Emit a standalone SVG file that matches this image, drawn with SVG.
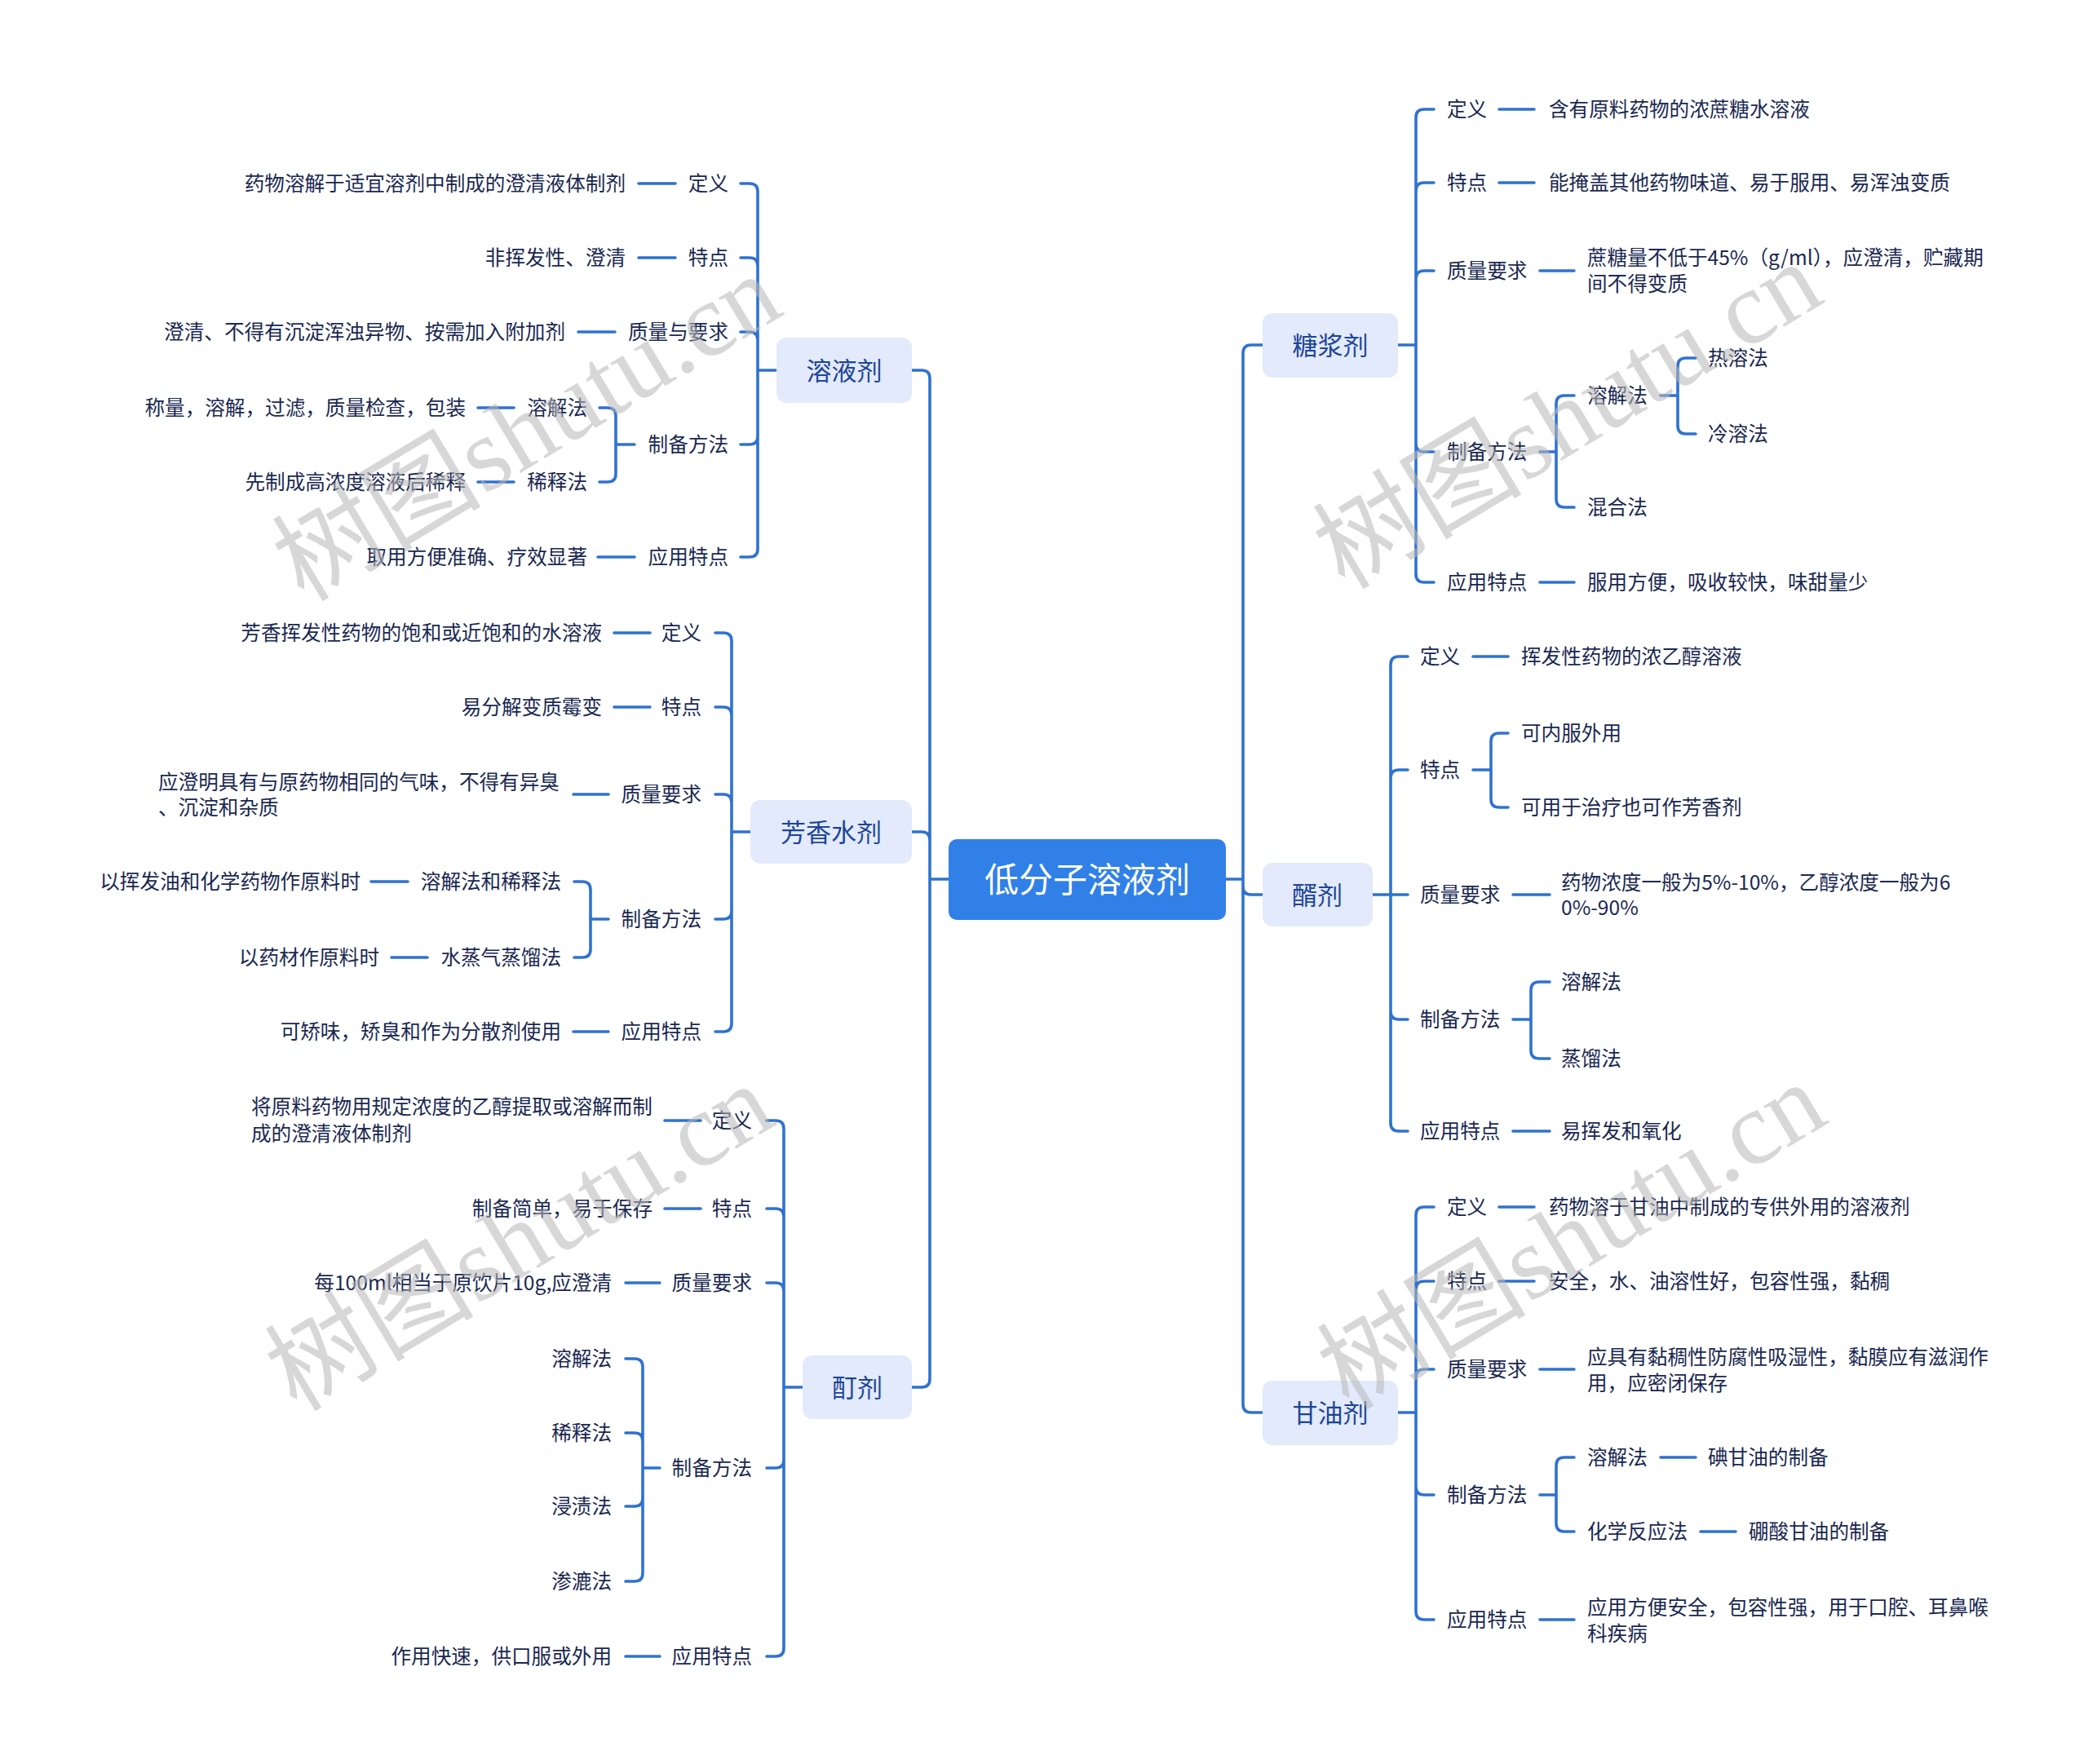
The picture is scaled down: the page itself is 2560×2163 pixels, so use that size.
<svg xmlns="http://www.w3.org/2000/svg" width="2560" height="2163" viewBox="0 0 2560 2163">
<style>
.ln{fill:none;stroke:#2f72d0;stroke-width:3.6;stroke-linecap:round;stroke-linejoin:round}
.t{font-family:"Noto Sans CJK SC","Noto Sans",sans-serif;font-size:24.6px;fill:#1a2852;dominant-baseline:central;transform:translateY(-2.5px)}
.e{text-anchor:end}
.b1{fill:#e2eafb}
.t1{font-family:"Noto Sans CJK SC","Noto Sans",sans-serif;font-size:31px;fill:#1d4597;text-anchor:middle;dominant-baseline:central;transform:translateY(-2px)}
.t0{font-family:"Noto Sans CJK SC","Noto Sans",sans-serif;font-size:42px;fill:#ffffff;text-anchor:middle;dominant-baseline:central;transform:translateY(-3px)}
.wm{font-family:"Liberation Serif","Noto Sans CJK SC",serif;font-size:128px;fill:#b8b8b8;opacity:.55;text-anchor:middle;dominant-baseline:central}
</style>
<rect width="2560" height="2163" fill="#ffffff"/>
<g id="connectors" class="ln">
<path d="M1163,1078H1140 M1140,464V1691 M1118,454H1130Q1140,454 1140,464 M1118,1020H1130Q1140,1020 1140,1030 M1118,1701H1130Q1140,1701 1140,1691"/>
<path d="M1503,1078H1524 M1524,433V1722 M1548,423H1534Q1524,423 1524,433 M1548,1097H1534Q1524,1097 1524,1087 M1548,1732H1534Q1524,1732 1524,1722"/>
<path d="M952,454H929 M929,235V673 M908,225H919Q929,225 929,235 M908,316H919Q929,316 929,326 M908,407H919Q929,407 929,417 M908,545H919Q929,545 929,535 M908,683H919Q929,683 929,673 M828,225H783 M828,316H783 M754,407H709 M778,545H755 M755,510V581 M735,500H745Q755,500 755,510 M735,591H745Q755,591 755,581 M630,500H586 M630,591H586 M778,683H733"/>
<path d="M920,1020H897 M897,786V1255 M877,776H887Q897,776 897,786 M877,867H887Q897,867 897,877 M877,974H887Q897,974 897,984 M877,1127H887Q897,1127 897,1117 M877,1265H887Q897,1265 897,1255 M797,776H753 M797,867H753 M746,974H703 M746,1127H724 M724,1091V1164 M704,1081H714Q724,1081 724,1091 M704,1174H714Q724,1174 724,1164 M500,1081H455 M524,1174H480 M746,1265H703"/>
<path d="M984,1701H961 M961,1384V2021 M940,1374H951Q961,1374 961,1384 M940,1482H951Q961,1482 961,1492 M940,1573H951Q961,1573 961,1583 M940,1800H951Q961,1800 961,1790 M940,2031H951Q961,2031 961,2021 M859,1374H815 M859,1482H815 M809,1573H767 M809,1800H788 M788,1676V1929 M767,1666H778Q788,1666 788,1676 M767,1757H778Q788,1757 788,1767 M767,1847H778Q788,1847 788,1837 M767,1939H778Q788,1939 788,1929 M809,2031H767"/>
<path d="M1714,423H1736 M1736,144V704 M1758,134H1746Q1736,134 1736,144 M1758,224H1746Q1736,224 1736,234 M1758,332H1746Q1736,332 1736,342 M1758,554H1746Q1736,554 1736,544 M1758,714H1746Q1736,714 1736,704 M1838,134H1881 M1838,224H1881 M1888,332H1930 M1888,554H1908 M1908,495V612 M1930,485H1918Q1908,485 1908,495 M1930,622H1918Q1908,622 1908,612 M2036,485H2057 M2057,449V522 M2079,439H2067Q2057,439 2057,449 M2079,532H2067Q2057,532 2057,522 M1888,714H1930"/>
<path d="M1683,1097H1726 M1705,815V1377 M1726,805H1715Q1705,805 1705,815 M1726,944H1715Q1705,944 1705,954 M1726,1250H1715Q1705,1250 1705,1240 M1726,1387H1715Q1705,1387 1705,1377 M1806,805H1849 M1806,944H1828 M1828,909V980 M1849,899H1838Q1828,899 1828,909 M1849,990H1838Q1828,990 1828,980 M1855,1097H1900 M1855,1250H1877 M1877,1214V1288 M1900,1204H1887Q1877,1204 1877,1214 M1900,1298H1887Q1877,1298 1877,1288 M1855,1387H1900"/>
<path d="M1714,1732H1736 M1736,1490V1976 M1758,1480H1746Q1736,1480 1736,1490 M1758,1571H1746Q1736,1571 1736,1581 M1758,1679H1746Q1736,1679 1736,1689 M1758,1833H1746Q1736,1833 1736,1823 M1758,1986H1746Q1736,1986 1736,1976 M1838,1480H1881 M1838,1571H1881 M1888,1679H1930 M1888,1833H1908 M1908,1797V1868 M1930,1787H1918Q1908,1787 1908,1797 M1930,1878H1918Q1908,1878 1908,1868 M2036,1787H2079 M2085,1878H2128 M1888,1986H1930"/>
</g>
<g id="root"><rect x="1163" y="1029" width="340" height="99" rx="10" fill="#3080e8"/><text class="t0" x="1333" y="1078">低分子溶液剂</text></g>

<g id="rongyeji"><rect class="b1" x="952" y="414" width="166" height="80" rx="12"/><text class="t1" x="1035" y="454">溶液剂</text></g>
<g id="ryj-dy"><text class="t e" x="893" y="225">定义</text></g>
<g id="ryj-dy-1"><text class="t e" x="767" y="225">药物溶解于适宜溶剂中制成的澄清液体制剂</text></g>
<g id="ryj-td"><text class="t e" x="893" y="316">特点</text></g>
<g id="ryj-td-1"><text class="t e" x="767" y="316">非挥发性、澄清</text></g>
<g id="ryj-zl"><text class="t e" x="893" y="407">质量与要求</text></g>
<g id="ryj-zl-1"><text class="t e" x="693" y="407">澄清、不得有沉淀浑浊异物、按需加入附加剂</text></g>
<g id="ryj-zb"><text class="t e" x="893" y="545">制备方法</text></g>
<g id="ryj-zb-1"><text class="t e" x="720" y="500">溶解法</text></g>
<g id="ryj-zb-1a"><text class="t e" x="571" y="500">称量，溶解，过滤，质量检查，包装</text></g>
<g id="ryj-zb-2"><text class="t e" x="720" y="591">稀释法</text></g>
<g id="ryj-zb-2a"><text class="t e" x="571" y="591">先制成高浓度溶液后稀释</text></g>
<g id="ryj-yy"><text class="t e" x="893" y="683">应用特点</text></g>
<g id="ryj-yy-1"><text class="t e" x="720" y="683">取用方便准确、疗效显著</text></g>

<g id="fangxiang"><rect class="b1" x="920" y="981" width="198" height="78" rx="12"/><text class="t1" x="1019" y="1020">芳香水剂</text></g>
<g id="fx-dy"><text class="t e" x="860" y="776">定义</text></g>
<g id="fx-dy-1"><text class="t e" x="738" y="776">芳香挥发性药物的饱和或近饱和的水溶液</text></g>
<g id="fx-td"><text class="t e" x="860" y="867">特点</text></g>
<g id="fx-td-1"><text class="t e" x="738" y="867">易分解变质霉变</text></g>
<g id="fx-zl"><text class="t e" x="860" y="974">质量要求</text></g>
<g id="fx-zl-1"><text class="t" x="194" y="959">应澄明具有与原药物相同的气味，不得有异臭</text><text class="t" x="194" y="990">、沉淀和杂质</text></g>
<g id="fx-zb"><text class="t e" x="860" y="1127">制备方法</text></g>
<g id="fx-zb-1"><text class="t e" x="688" y="1081">溶解法和稀释法</text></g>
<g id="fx-zb-1a"><text class="t e" x="442" y="1081">以挥发油和化学药物作原料时</text></g>
<g id="fx-zb-2"><text class="t e" x="688" y="1174">水蒸气蒸馏法</text></g>
<g id="fx-zb-2a"><text class="t e" x="465" y="1174">以药材作原料时</text></g>
<g id="fx-yy"><text class="t e" x="860" y="1265">应用特点</text></g>
<g id="fx-yy-1"><text class="t e" x="688" y="1265">可矫味，矫臭和作为分散剂使用</text></g>

<g id="dingji"><rect class="b1" x="984" y="1662" width="134" height="78" rx="12"/><text class="t1" x="1051" y="1701">酊剂</text></g>
<g id="dj-dy"><text class="t e" x="922" y="1374">定义</text></g>
<g id="dj-dy-1"><text class="t" x="308" y="1357">将原料药物用规定浓度的乙醇提取或溶解而制</text><text class="t" x="308" y="1390">成的澄清液体制剂</text></g>
<g id="dj-td"><text class="t e" x="922" y="1482">特点</text></g>
<g id="dj-td-1"><text class="t e" x="800" y="1482">制备简单，易于保存</text></g>
<g id="dj-zl"><text class="t e" x="922" y="1573">质量要求</text></g>
<g id="dj-zl-1"><text class="t e" x="750" y="1573">每100ml相当于原饮片10g,应澄清</text></g>
<g id="dj-zb"><text class="t e" x="922" y="1800">制备方法</text></g>
<g id="dj-zb-1"><text class="t e" x="750" y="1666">溶解法</text></g>
<g id="dj-zb-2"><text class="t e" x="750" y="1757">稀释法</text></g>
<g id="dj-zb-3"><text class="t e" x="750" y="1847">浸渍法</text></g>
<g id="dj-zb-4"><text class="t e" x="750" y="1939">渗漉法</text></g>
<g id="dj-yy"><text class="t e" x="922" y="2031">应用特点</text></g>
<g id="dj-yy-1"><text class="t e" x="750" y="2031">作用快速，供口服或外用</text></g>

<g id="tangjiang"><rect class="b1" x="1548" y="384" width="166" height="79" rx="12"/><text class="t1" x="1631" y="423">糖浆剂</text></g>
<g id="tj-dy"><text class="t" x="1774" y="134">定义</text></g>
<g id="tj-dy-1"><text class="t" x="1899" y="134">含有原料药物的浓蔗糖水溶液</text></g>
<g id="tj-td"><text class="t" x="1774" y="224">特点</text></g>
<g id="tj-td-1"><text class="t" x="1899" y="224">能掩盖其他药物味道、易于服用、易浑浊变质</text></g>
<g id="tj-zl"><text class="t" x="1774" y="332">质量要求</text></g>
<g id="tj-zl-1"><text class="t" x="1946" y="316">蔗糖量不低于45%（g/ml），应澄清，贮藏期</text><text class="t" x="1946" y="348">间不得变质</text></g>
<g id="tj-zb"><text class="t" x="1774" y="554">制备方法</text></g>
<g id="tj-zb-1"><text class="t" x="1946" y="485">溶解法</text></g>
<g id="tj-zb-1a"><text class="t" x="2094" y="439">热溶法</text></g>
<g id="tj-zb-1b"><text class="t" x="2094" y="532">冷溶法</text></g>
<g id="tj-zb-2"><text class="t" x="1946" y="622">混合法</text></g>
<g id="tj-yy"><text class="t" x="1774" y="714">应用特点</text></g>
<g id="tj-yy-1"><text class="t" x="1946" y="714">服用方便，吸收较快，味甜量少</text></g>

<g id="xuji"><rect class="b1" x="1548" y="1058" width="135" height="78" rx="12"/><text class="t1" x="1615" y="1097">醑剂</text></g>
<g id="xj-dy"><text class="t" x="1741" y="805">定义</text></g>
<g id="xj-dy-1"><text class="t" x="1865" y="805">挥发性药物的浓乙醇溶液</text></g>
<g id="xj-td"><text class="t" x="1741" y="944">特点</text></g>
<g id="xj-td-1"><text class="t" x="1865" y="899">可内服外用</text></g>
<g id="xj-td-2"><text class="t" x="1865" y="990">可用于治疗也可作芳香剂</text></g>
<g id="xj-zl"><text class="t" x="1741" y="1097">质量要求</text></g>
<g id="xj-zl-1"><text class="t" x="1914" y="1082">药物浓度一般为5%-10%，乙醇浓度一般为6</text><text class="t" x="1914" y="1113">0%-90%</text></g>
<g id="xj-zb"><text class="t" x="1741" y="1250">制备方法</text></g>
<g id="xj-zb-1"><text class="t" x="1914" y="1204">溶解法</text></g>
<g id="xj-zb-2"><text class="t" x="1914" y="1298">蒸馏法</text></g>
<g id="xj-yy"><text class="t" x="1741" y="1387">应用特点</text></g>
<g id="xj-yy-1"><text class="t" x="1914" y="1387">易挥发和氧化</text></g>

<g id="ganyou"><rect class="b1" x="1548" y="1693" width="166" height="79" rx="12"/><text class="t1" x="1631" y="1732">甘油剂</text></g>
<g id="gy-dy"><text class="t" x="1774" y="1480">定义</text></g>
<g id="gy-dy-1"><text class="t" x="1899" y="1480">药物溶于甘油中制成的专供外用的溶液剂</text></g>
<g id="gy-td"><text class="t" x="1774" y="1571">特点</text></g>
<g id="gy-td-1"><text class="t" x="1899" y="1571">安全，水、油溶性好，包容性强，黏稠</text></g>
<g id="gy-zl"><text class="t" x="1774" y="1679">质量要求</text></g>
<g id="gy-zl-1"><text class="t" x="1946" y="1664">应具有黏稠性防腐性吸湿性，黏膜应有滋润作</text><text class="t" x="1946" y="1696">用，应密闭保存</text></g>
<g id="gy-zb"><text class="t" x="1774" y="1833">制备方法</text></g>
<g id="gy-zb-1"><text class="t" x="1946" y="1787">溶解法</text></g>
<g id="gy-zb-1a"><text class="t" x="2094" y="1787">碘甘油的制备</text></g>
<g id="gy-zb-2"><text class="t" x="1946" y="1878">化学反应法</text></g>
<g id="gy-zb-2a"><text class="t" x="2144" y="1878">硼酸甘油的制备</text></g>
<g id="gy-yy"><text class="t" x="1774" y="1986">应用特点</text></g>
<g id="gy-yy-1"><text class="t" x="1946" y="1971">应用方便安全，包容性强，用于口腔、耳鼻喉</text><text class="t" x="1946" y="2003">科疾病</text></g>

<g id="watermark">
<text class="wm" x="646" y="525" transform="rotate(-31 646 525)" textLength="690" lengthAdjust="spacingAndGlyphs">树图shutu.cn</text>
<text class="wm" x="1922" y="510" transform="rotate(-31 1922 510)" textLength="690" lengthAdjust="spacingAndGlyphs">树图shutu.cn</text>
<text class="wm" x="637" y="1518" transform="rotate(-31 637 1518)" textLength="690" lengthAdjust="spacingAndGlyphs">树图shutu.cn</text>
<text class="wm" x="1927" y="1516" transform="rotate(-31 1927 1516)" textLength="690" lengthAdjust="spacingAndGlyphs">树图shutu.cn</text>
</g>
</svg>
